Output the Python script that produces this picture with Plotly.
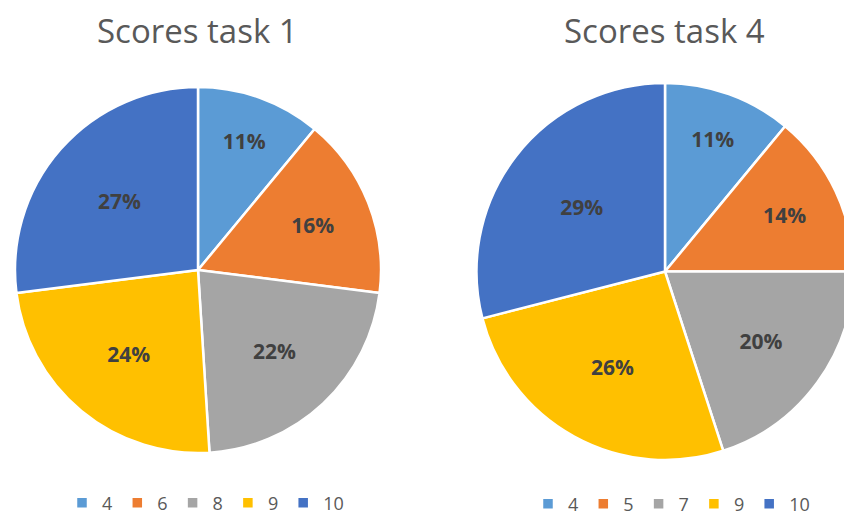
import plotly.graph_objects as go

labels_task1 = ["4", "6", "8", "9", "10"]
values_task1 = [11, 16, 22, 24, 27]
labels_task4 = ["4", "5", "7", "9", "10"]
values_task4 = [11, 14, 20, 26, 29]
colors = ["#5B9BD5", "#ED7D31", "#A5A5A5", "#FFC000", "#4472C4"]

# canvas slightly larger than the 844x517 view so the right pie is cropped like the reference
W, H = 870, 530

def dom(x0, x1, y0, y1):
    return dict(x=[x0 / W, x1 / W], y=[(H - y1) / H, (H - y0) / H])

# zero-width suffix keeps the two pies' legends independent (shared labels would otherwise merge)
legend_keys_task4 = [lab + "\u200b" for lab in labels_task4]

label_font = dict(family="Open Sans", size=21, color="#404040", weight="bold")

fig = go.Figure()
fig.add_trace(go.Pie(
    labels=labels_task1, values=values_task1, sort=False, direction="clockwise",
    rotation=0, marker=dict(colors=colors, line=dict(color="white", width=2.5)),
    texttemplate="%{percent:.0%}", textposition="inside",
    insidetextorientation="horizontal", textfont=label_font,
    domain=dom(15, 381, 87, 453), legend="legend", hoverinfo="label+percent",
))
fig.add_trace(go.Pie(
    labels=legend_keys_task4, values=values_task4, sort=False, direction="clockwise",
    rotation=0, marker=dict(colors=colors, line=dict(color="white", width=2.5)),
    texttemplate="%{percent:.0%}", textposition="inside",
    insidetextorientation="horizontal", textfont=label_font,
    domain=dom(476, 854, 83, 460), legend="legend2", hoverinfo="label+percent",
))

legfont = dict(family="Open Sans", size=18, color="#595959")
fig.update_layout(
    width=W, height=H, margin=dict(l=0, r=0, t=0, b=0, autoexpand=False),
    paper_bgcolor="white", plot_bgcolor="white",
    font=dict(family="Open Sans", color="#595959"),
    annotations=[
        dict(text="Scores task 1", x=197 / W, y=(H - 31) / H, xref="paper", yref="paper",
             showarrow=False, font=dict(size=33, color="#595959"), xanchor="center", yanchor="middle"),
        dict(text="Scores task 4", x=664 / W, y=(H - 31) / H, xref="paper", yref="paper",
             showarrow=False, font=dict(size=33, color="#595959"), xanchor="center", yanchor="middle"),
    ],
    legend=dict(orientation="h", x=62 / W, y=(H - 503) / H, xanchor="left", yanchor="middle",
                font=legfont, itemwidth=30, tracegroupgap=0, bgcolor="rgba(0,0,0,0)"),
    legend2=dict(orientation="h", x=528 / W, y=(H - 504) / H, xanchor="left", yanchor="middle",
                 font=legfont, itemwidth=30, tracegroupgap=0, bgcolor="rgba(0,0,0,0)"),
)

fig.write_html(
    "out.html",
    config={"displayModeBar": False},
    post_script="document.body.style.margin='0';document.body.style.overflow='hidden';document.documentElement.style.overflow='hidden';",
)
